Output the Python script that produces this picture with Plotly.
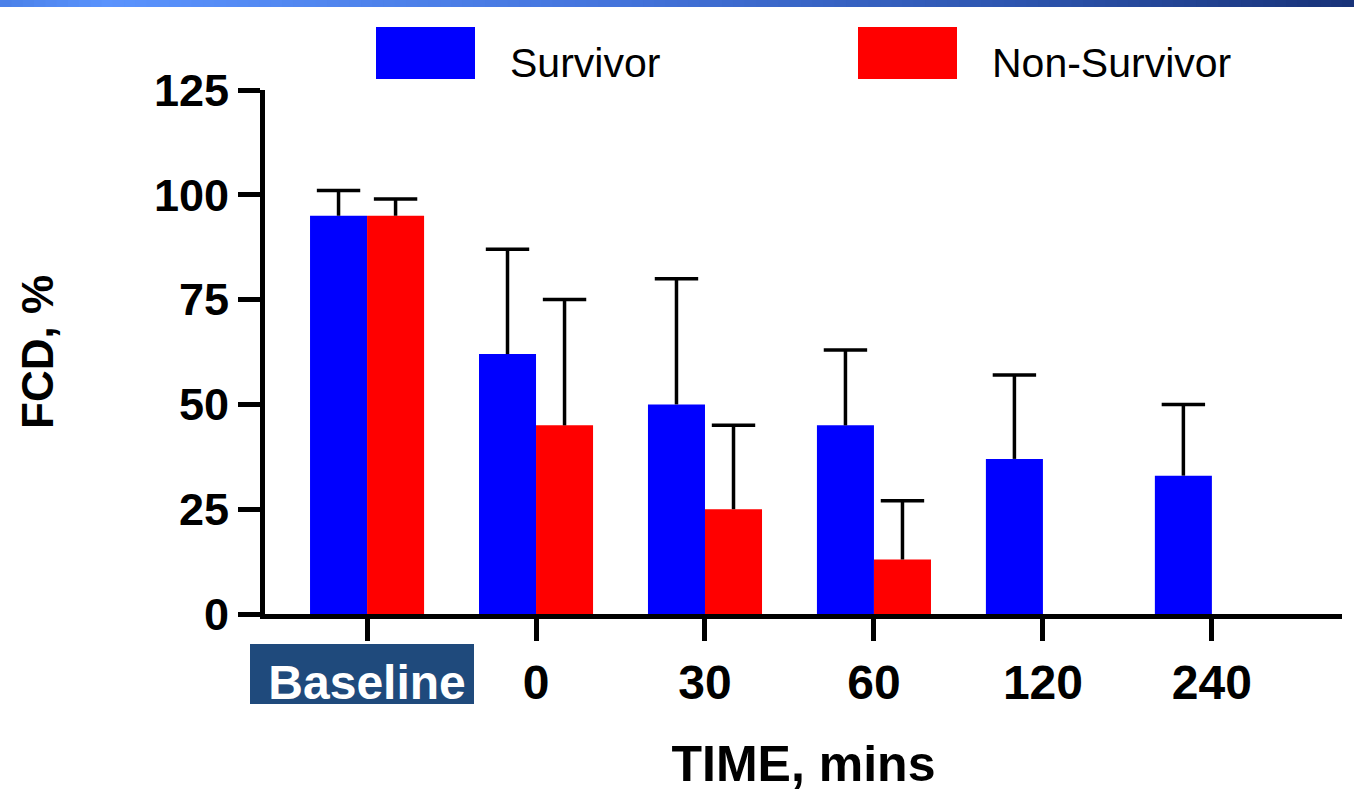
import plotly.graph_objects as go

# --- data -------------------------------------------------------------
time_points = ["Baseline", "0", "30", "60", "120", "240"]
survivor_fcd = [95, 62, 50, 45, 37, 33]
survivor_sd = [6, 25, 30, 18, 20, 17]
non_survivor_fcd = [95, 45, 25, 13, None, None]
non_survivor_sd = [4, 30, 20, 14, None, None]
y_ticks = [0, 25, 50, 75, 100, 125]

# --- page geometry (pixels) ------------------------------------------
W, H = 1354, 800
L, R, T, B = 265, 12, 90, 186
PW, PH = W - L - R, H - T - B
GAP = 0.325


def px_x(x):
    return (x - L) / PW


def px_y(y):
    return (H - B - y) / PH


FONT = "Liberation Sans, Arial, Helvetica, sans-serif"

fig = go.Figure()


def add_series(name, means, sds, color):
    # bar with an upward-only whisker (no cross-bar at the bar top)
    fig.add_trace(go.Bar(
        name=name, x=time_points, y=means, offsetgroup=name,
        marker=dict(color=color, line=dict(width=0)),
        error_y=dict(type="data", array=sds, symmetric=False,
                     arrayminus=[0] * len(sds),
                     color="black", thickness=3.5, width=0),
    ))
    # cap on the upper end of each whisker
    tops = [None if m is None else m + s for m, s in zip(means, sds)]
    fig.add_trace(go.Scatter(
        name=name, x=time_points, y=tops, offsetgroup=name, mode="markers",
        marker=dict(symbol="line-ew", size=31, color="black",
                    line=dict(color="black", width=3.5)),
        hoverinfo="skip", showlegend=False,
    ))


add_series("Survivor", survivor_fcd, survivor_sd, "#0000ff")
add_series("Non-Survivor", non_survivor_fcd, non_survivor_sd, "#ff0000")

shapes = []

# gradient strip along the top edge of the page
stops = [(0.0, (74, 128, 232)), (0.08, (90, 147, 253)), (0.45, (68, 116, 220)),
         (0.75, (45, 85, 175)), (1.0, (24, 50, 120))]


def grad(t):
    for (t0, c0), (t1, c1) in zip(stops, stops[1:]):
        if t0 <= t <= t1:
            f = (t - t0) / (t1 - t0)
            return "rgb(%d,%d,%d)" % tuple(round(a + (b - a) * f) for a, b in zip(c0, c1))
    return "rgb(%d,%d,%d)" % stops[-1][1]


n_steps = 120
for i in range(n_steps):
    x0 = W * i / n_steps
    x1 = W * (i + 1) / n_steps + 1
    shapes.append(dict(type="rect", xref="paper", yref="paper",
                       x0=px_x(x0), x1=px_x(x1), y0=px_y(7), y1=px_y(0),
                       fillcolor=grad((i + 0.5) / n_steps), line=dict(width=0),
                       layer="below"))

# legend swatches
shapes.append(dict(type="rect", xref="paper", yref="paper",
                   x0=px_x(376), x1=px_x(475), y0=px_y(79), y1=px_y(27),
                   fillcolor="#0000ff", line=dict(width=0)))
shapes.append(dict(type="rect", xref="paper", yref="paper",
                   x0=px_x(858), x1=px_x(957), y0=px_y(79), y1=px_y(27),
                   fillcolor="#ff0000", line=dict(width=0)))

# dark box behind the "Baseline" tick label
shapes.append(dict(type="rect", xref="paper", yref="paper",
                   x0=px_x(250), x1=px_x(474), y0=px_y(704), y1=px_y(644),
                   fillcolor="#1f4a7c", line=dict(width=0), layer="below"))

annotations = [
    dict(text="Survivor", xref="paper", yref="paper", x=px_x(508), y=px_y(63),
         xanchor="left", yanchor="middle", showarrow=False,
         font=dict(family=FONT, size=41, color="black")),
    dict(text="Non-Survivor", xref="paper", yref="paper", x=px_x(990), y=px_y(63),
         xanchor="left", yanchor="middle", showarrow=False,
         font=dict(family=FONT, size=41, color="black")),
]

tick_text = ['<span style="color:white">Baseline</span>'] + time_points[1:]

fig.update_layout(
    width=W, height=H,
    margin=dict(l=L, r=R, t=T, b=B, pad=0),
    paper_bgcolor="white", plot_bgcolor="rgba(0,0,0,0)",
    barmode="group", bargap=GAP, bargroupgap=0,
    scattermode="group", scattergap=GAP,
    showlegend=False,
    shapes=shapes, annotations=annotations,
    font=dict(family=FONT, color="black"),
)

fig.update_xaxes(
    type="category", range=[-0.604, 5.77],
    tickmode="array", tickvals=time_points, ticktext=tick_text,
    showline=True, linecolor="black", linewidth=5,
    ticks="outside", ticklen=22, tickwidth=5, tickcolor="black",
    tickfont=dict(family=FONT, size=48, color="black", weight="bold"),
    showgrid=False, zeroline=False,
    title=dict(text="<b>TIME, mins</b>", standoff=40,
               font=dict(family=FONT, size=50, color="black")),
)

fig.update_yaxes(
    range=[0, 125], tickvals=y_ticks, ticktext=[str(v) for v in y_ticks],
    showline=True, linecolor="black", linewidth=5,
    ticks="outside", ticklen=22, tickwidth=5, tickcolor="black",
    tickfont=dict(family=FONT, size=45, color="black", weight="bold"),
    showgrid=False, zeroline=False,
    title=dict(text="<b>FCD, %</b>", standoff=88,
               font=dict(family=FONT, size=44, color="black")),
)

fig.write_html("out.html")
